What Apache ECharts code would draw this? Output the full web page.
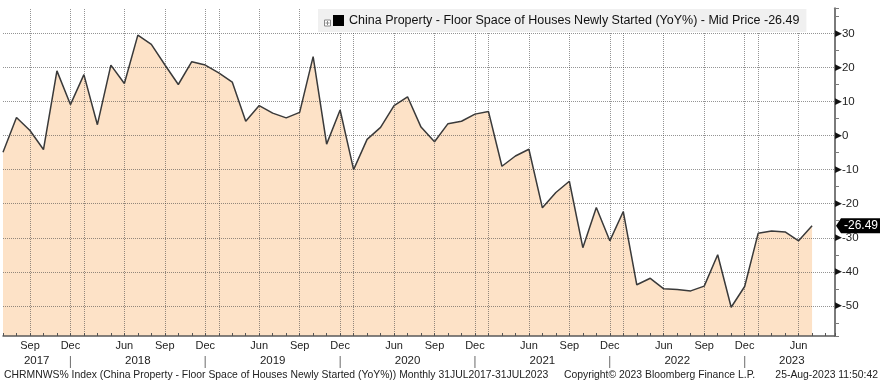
<!DOCTYPE html>
<html><head><meta charset="utf-8">
<script src="https://cdn.jsdelivr.net/npm/echarts@6/dist/echarts.min.js"></script>
<style>html,body{margin:0;padding:0;background:#fff}#c{width:887px;height:390px}</style>
</head><body><div id="c"></div>
<script>
const seriesName = 'China Property - Floor Space of Houses Newly Started (YoY%)';
const months = [
  'Jul 2017','Aug 2017','Sep 2017','Oct 2017','Nov 2017','Dec 2017',
  'Mar 2018','Apr 2018','May 2018','Jun 2018','Jul 2018','Aug 2018','Sep 2018','Oct 2018','Nov 2018','Dec 2018',
  'Mar 2019','Apr 2019','May 2019','Jun 2019','Jul 2019','Aug 2019','Sep 2019','Oct 2019','Nov 2019','Dec 2019',
  'Mar 2020','Apr 2020','May 2020','Jun 2020','Jul 2020','Aug 2020','Sep 2020','Oct 2020','Nov 2020','Dec 2020',
  'Mar 2021','Apr 2021','May 2021','Jun 2021','Jul 2021','Aug 2021','Sep 2021','Oct 2021','Nov 2021','Dec 2021',
  'Mar 2022','Apr 2022','May 2022','Jun 2022','Jul 2022','Aug 2022','Sep 2022','Oct 2022','Nov 2022','Dec 2022',
  'Mar 2023','Apr 2023','May 2023','Jun 2023','Jul 2023'
];
const values = [
  -4.9, 5.3, 1.5, -4.1, 19.0, 9.1,
  17.9, 3.2, 20.7, 15.3, 29.5, 26.8, 20.8, 15.0, 21.7, 20.7,
  18.4, 15.7, 4.2, 8.8, 6.6, 5.2, 6.8, 23.2, -2.5, 7.5,
  -10.0, -1.1, 2.4, 8.8, 11.4, 2.5, -1.8, 3.5, 4.2, 6.3,
  7.1, -9.0, -6.0, -4.0, -21.2, -16.7, -13.4, -32.9, -21.1, -30.9,
  -22.3, -43.8, -41.9, -45.0, -45.2, -45.6, -44.2, -35.0, -50.4, -44.3,
  -28.7, -28.0, -28.3, -30.9, -26.49
];
const labelMonths = ['Jun', 'Sep', 'Dec'];
const gridMonths = ['Mar', 'Jun', 'Sep', 'Dec'];
const footerLeft = 'CHRMNWS% Index (China Property - Floor Space of Houses Newly Started (YoY%)) Monthly 31JUL2017-31JUL2023';
const footerMid = 'Copyright\u00A9 2023 Bloomberg Finance L.P.';
const footerRight = '25-Aug-2023 11:50:42';

const xMax = 61.7, yMin = -58.84, yMax = 37.37;
const FONT = '"Liberation Sans", Arial, sans-serif';
const last = values[values.length - 1];

const mo = i => months[i].split(' ')[0];
const decIdx = {};
months.forEach((m, i) => { const [a, y] = m.split(' '); if (a === 'Dec') decIdx[y] = i; });
const years = [...new Set(months.map(m => m.split(' ')[1]))];
const yearPos = years.map(y => {
  const prev = decIdx[String(+y - 1)] !== undefined ? decIdx[String(+y - 1)] : 0;
  const cur = decIdx[y] !== undefined ? decIdx[y] : xMax;
  return { year: y, pos: Math.round(((prev + cur) / 2) * 2) / 2 };
});

const chart = echarts.init(document.getElementById('c'), null, { renderer: 'canvas' });
const gridStyle = { color: 'rgba(60,60,60,0.55)', type: 'dotted', width: 1 };
chart.setOption({
  animation: false,
  textStyle: { fontFamily: FONT },
  grid: { left: 2.7, right: 52, top: 8.3, bottom: 54, containLabel: false },
  legend: {
    left: 318, top: 9, padding: [5, 7, 5, 15],
    backgroundColor: '#f0f0f0',
    itemWidth: 11, itemHeight: 11, icon: 'rect',
    textStyle: { fontSize: 12.5, color: '#111', fontFamily: FONT },
    formatter: n => n + ' - Mid Price ' + last.toFixed(2),
    data: [{ name: seriesName, itemStyle: { color: '#000' } }],
    selectedMode: false
  },
  xAxis: [{
    type: 'value', min: 0, max: xMax, interval: 1, z: 2,
    axisLine: { show: true, onZero: false, lineStyle: { color: '#5a5a5a', width: 1.5 } },
    axisTick: { show: true, inside: true, length: 3, lineStyle: { color: '#555' } },
    splitLine: { show: false },
    axisLabel: {
      margin: 4, fontSize: 11, color: '#222', fontFamily: FONT,
      formatter: v => (Number.isInteger(v) && months[v] && labelMonths.includes(mo(v))) ? mo(v) : ''
    }
  }, {
    type: 'value', min: 0, max: xMax, interval: 0.5, position: 'bottom', offset: 0,
    axisLine: { show: false, onZero: false }, axisTick: { show: false }, splitLine: { show: false },
    axisLabel: {
      margin: 19, fontSize: 11.5, color: '#222', fontFamily: FONT,
      formatter: v => {
        const y = yearPos.find(o => Math.abs(o.pos - v) < 1e-6);
        if (y) return y.year;
        if (Number.isInteger(v) && months[v] && mo(v) === 'Dec') return '{s||}';
        return '';
      },
      rich: { s: { color: '#777', fontSize: 13 } }
    }
  }],
  yAxis: [{
    type: 'value', position: 'right', min: yMin, max: yMax, minInterval: 10, maxInterval: 10, z: 2,
    axisLine: { show: true, onZero: false, lineStyle: { color: '#7a7a7a', width: 2 } },
    axisTick: { show: false },
    splitLine: { show: true, showMinLine: false, showMaxLine: false, lineStyle: gridStyle },
    axisLabel: {
      margin: 0, showMinLabel: false, showMaxLabel: false,
      formatter: v => (Math.abs(v - Math.round(v / 10) * 10) < 1e-6) ? '{a|\u25B6}{b|' + Math.round(v) + '}' : '',
      rich: {
        a: { fontSize: 9, fontFamily: '"DejaVu Sans"', color: '#111' },
        b: { fontSize: 11.5, color: '#222', fontFamily: FONT }
      }
    }
  }, {
    type: 'value', position: 'right', min: yMin, max: yMax, minInterval: 5, maxInterval: 5, z: 2,
    axisLine: { show: false, onZero: false }, splitLine: { show: false }, axisLabel: { show: false },
    axisTick: { show: true, length: 4, lineStyle: { color: '#7a7a7a', width: 1 } }
  }],
  series: [{
    name: 'area', type: 'line', z: 1, symbol: 'none', silent: true,
    data: values.map((v, i) => [i, v]),
    lineStyle: { width: 0 },
    areaStyle: { color: '#fde2c7', opacity: 1, origin: 'start' },
    markLine: {
      silent: true, symbol: ['none', 'none'], z: 2, label: { show: false },
      lineStyle: gridStyle,
      data: months.map((m, i) => gridMonths.includes(mo(i)) ? { xAxis: i } : null).filter(Boolean)
    }
  }, {
    name: seriesName, type: 'line', z: 3, symbol: 'none', silent: true,
    data: values.map((v, i) => [i, v]),
    lineStyle: { color: '#3a3a3a', width: 1.5 },
    itemStyle: { color: '#000' }
  }]
});

const p = chart.convertToPixel({ xAxisIndex: 0, yAxisIndex: 0 }, [xMax, last]);
const ax = p[0], ay = p[1];
chart.setOption({
  graphic: [
    { type: 'rect', shape: { x: 324.5, y: 20, width: 6, height: 6 }, style: { fill: '#fff', stroke: '#888', lineWidth: 1 }, z: 100 },
    { type: 'line', shape: { x1: 325.5, y1: 23, x2: 329.5, y2: 23 }, style: { stroke: '#888', lineWidth: 1 }, z: 101 },
    { type: 'line', shape: { x1: 327.5, y1: 21, x2: 327.5, y2: 25 }, style: { stroke: '#888', lineWidth: 1 }, z: 101 },
    { type: 'polygon', shape: { points: [[ax + 1, ay], [ax + 6, ay - 7.5], [ax + 45, ay - 7.5], [ax + 45, ay + 7.5], [ax + 6, ay + 7.5]] },
      style: { fill: '#000' }, z: 100 },
    { type: 'text', x: ax + 26, y: ay, style: { text: last.toFixed(2), fill: '#fff', font: '12px ' + FONT, align: 'center', verticalAlign: 'middle' }, z: 101 },
    { type: 'text', x: 4, y: 375, style: { text: footerLeft, fill: '#222', font: '10.4px ' + FONT, verticalAlign: 'middle' } },
    { type: 'text', x: 564, y: 375, style: { text: footerMid, fill: '#222', font: '10.4px ' + FONT, verticalAlign: 'middle' } },
    { type: 'text', x: 878, y: 375, style: { text: footerRight, fill: '#222', font: '10.4px ' + FONT, align: 'right', verticalAlign: 'middle' } }
  ]
});
</script></body></html>
